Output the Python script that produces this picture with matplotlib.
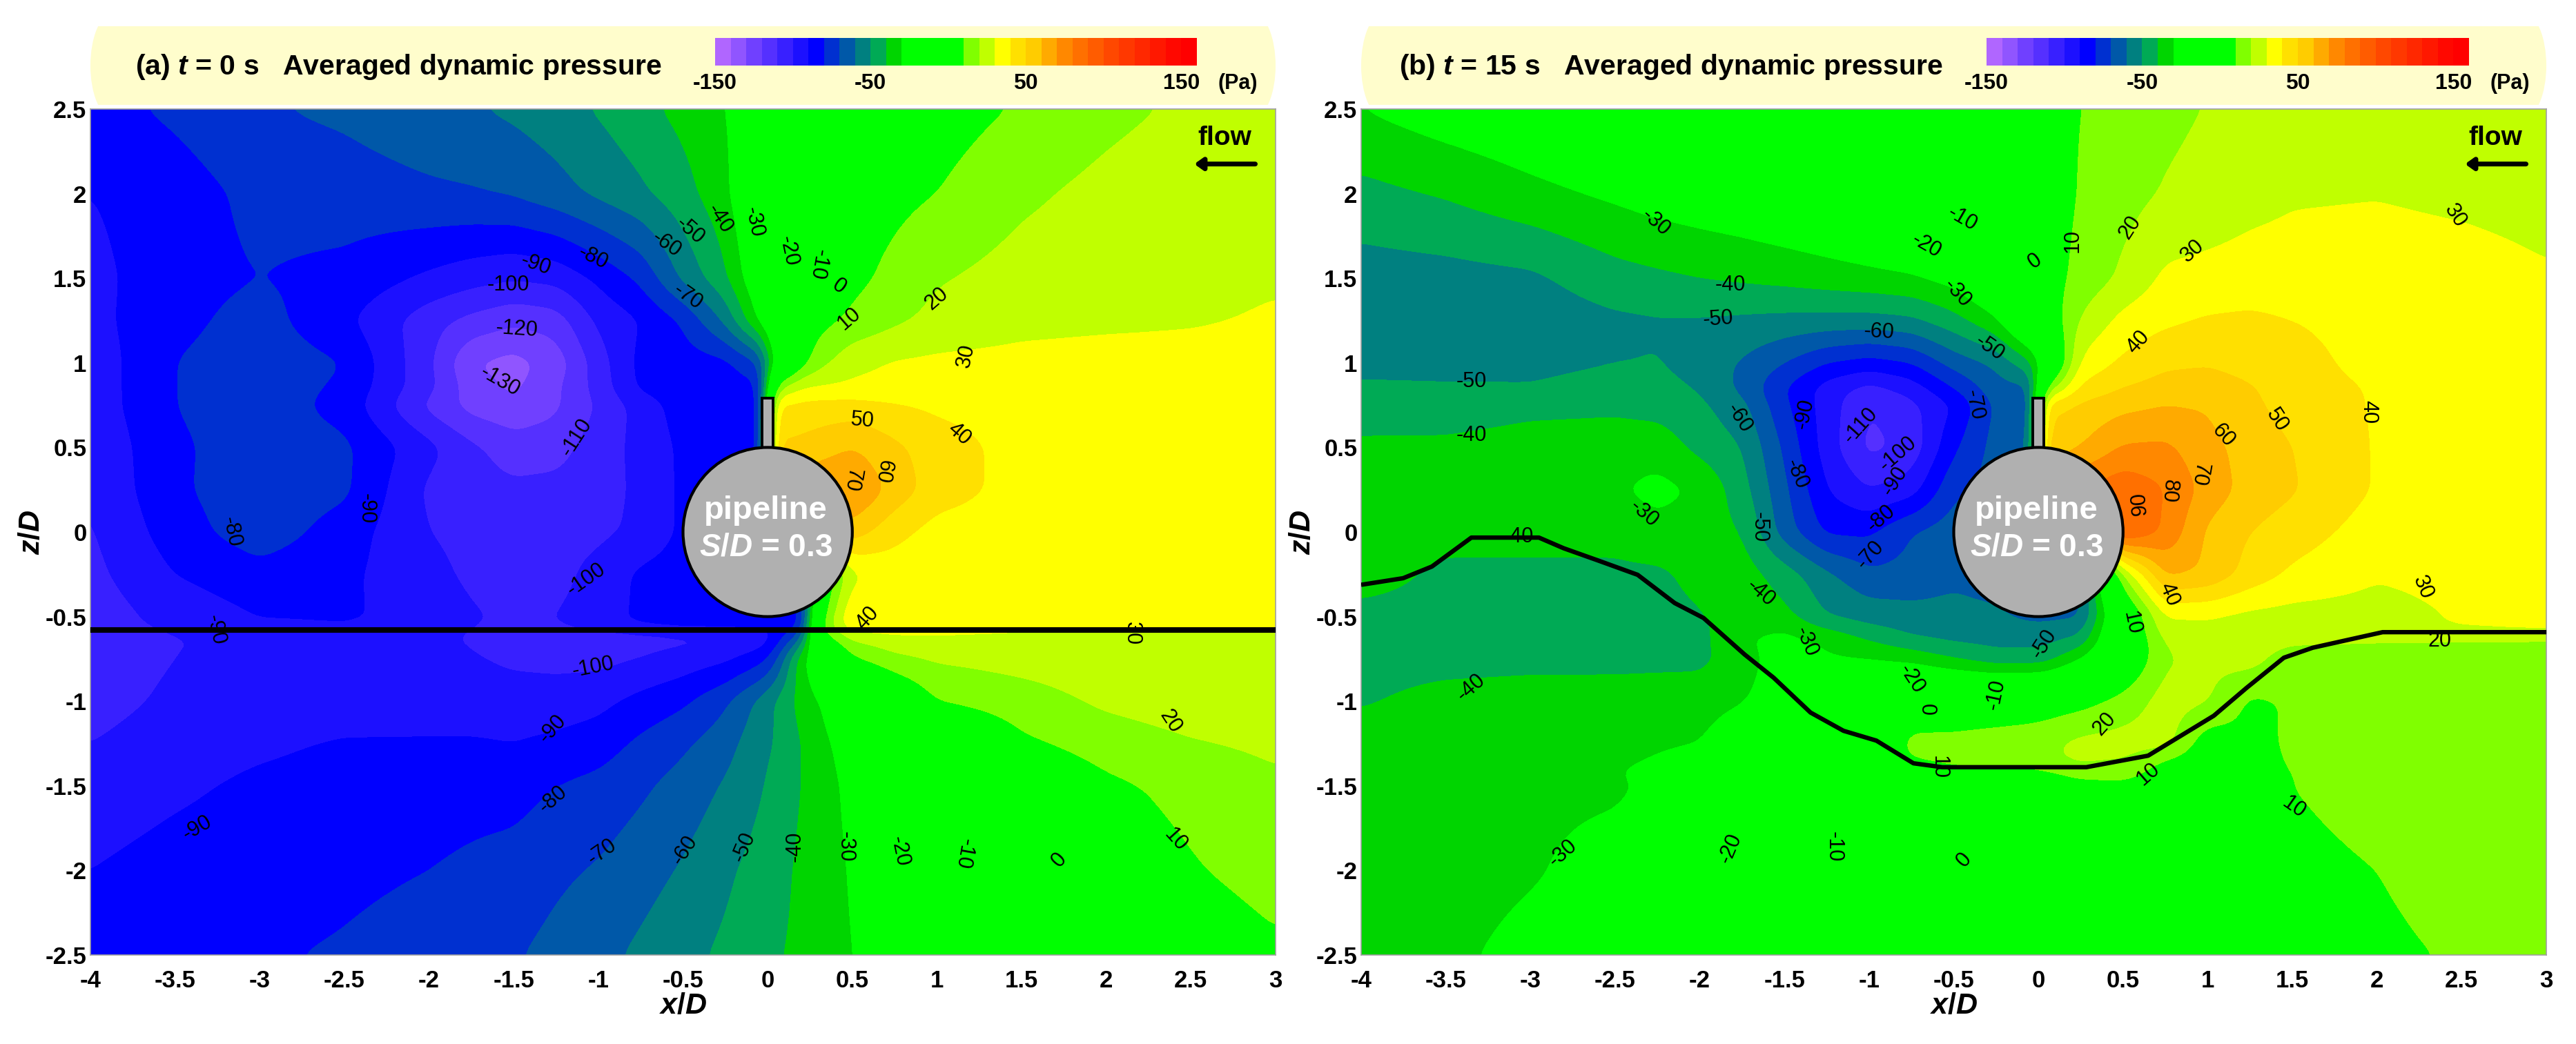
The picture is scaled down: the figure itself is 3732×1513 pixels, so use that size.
import numpy as np
import matplotlib
matplotlib.use("Agg")
import matplotlib.pyplot as plt
from matplotlib.colors import ListedColormap, BoundaryNorm
from matplotlib.patches import Circle, Rectangle, Ellipse

plt.rcParams["font.family"] = ["Liberation Sans", "DejaVu Sans"]
plt.rcParams["mathtext.fontset"] = "custom"
plt.rcParams["mathtext.rm"] = "Liberation Sans:bold"
plt.rcParams["mathtext.it"] = "Liberation Sans:italic:bold"
plt.rcParams["mathtext.bf"] = "Liberation Sans:bold"

# ---- colour scale ----
levels = list(range(-150, 170, 10))
band_colors = [
    "#B066FF", "#9055FF", "#7040FF", "#5530FF", "#3820FF", "#1C10FF", "#0000FF", "#0030D0",
    "#0058A8", "#008080", "#00AA55", "#00D500", "#00FF00", "#00FF00", "#00FF00", "#00FF00",
    "#80FF00", "#C0FF00", "#FFFF00", "#FFE000", "#FFCC00", "#FFAA00", "#FF8800", "#FF7000",
    "#FF5C00", "#FF4800", "#FF3800", "#FF2800", "#FF1800", "#FF0800", "#FF0000",
]
cbar_ticks = [-150, -50, 50, 150]
x_ticks = [-4, -3.5, -3, -2.5, -2, -1.5, -1, -0.5, 0, 0.5, 1, 1.5, 2, 2.5, 3]
z_ticks = [-2.5, -2, -1.5, -1, -0.5, 0, 0.5, 1, 1.5, 2, 2.5]

# ---- panel a, t = 0 s ----
x_a = [-4, -3.5, -3, -2.5, -2, -1.75, -1.5, -1.25, -1, -0.75, -0.5, -0.25, -0.04, 0.04, 0.2, 0.3, 0.5, 0.75, 1, 1.5, 2, 2.5, 3]
z_a = [2.5, 2, 1.5, 1.25, 1, 0.85, 0.75, 0.5, 0.25, 0, -0.25, -0.5, -0.565, -0.595, -0.75, -1, -1.25, -1.5, -2, -2.5]
p_a = [
    [-84, -78, -71, -68, -63, -61, -58, -54, -49, -43, -37, -30, -23, -21, -14, -10, -2, 2, 5, 11, 17, 22, 26],
    [-90, -85, -77, -75, -72, -71, -69, -64, -58, -52, -44, -33, -12, -6, -1, 1, 4, 7, 10, 18, 23, 27, 29],
    [-93, -84, -80, -83, -92, -96, -99, -97, -88, -78, -58, -42, -18, -8, 0, 2, 7, 13, 19, 24, 26, 28, 29],
    [-93, -83, -76, -88, -106, -113, -118, -115, -98, -90, -79, -58, -27, -15, 0, 6, 12, 18, 23, 27, 28, 29, 31],
    [-96, -80, -74, -80, -108, -130, -134, -126, -105, -87, -85, -83, -70, -25, 5, 16, 27, 31, 32, 33, 34, 34, 34],
    [-96, -80, -74, -82, -107, -125, -132, -122, -106, -88, -85, -85, -83, 15, 30, 31, 32, 33, 33, 34, 34, 34, 35],
    [-96, -80, -74, -84, -113, -124, -128, -122, -109, -96, -85, -85, -85, 41, 43, 44, 44, 41, 38, 35, 34, 34, 35],
    [-98, -82, -74, -78, -97, -108, -115, -114, -105, -97, -88, -85, -85, 51, 53, 55, 60, 52, 45, 36, 34, 34, 34],
    [-99, -82, -73, -78, -102, -106, -108, -107, -104, -98, -88, -85, -85, 60, 65, 70, 72, 56, 45, 36, 34, 34, 34],
    [-101, -85, -74, -85, -100, -103, -104, -103, -102, -98, -88, -85, -85, 50, 56, 57, 55, 43, 36, 34, 34, 34, 34],
    [-103, -90, -84, -88, -97, -102, -103, -103, -97, -88, -85, -85, -85, -85, -85, -10, 28, 34, 34, 34, 34, 34, 34],
    [-106, -96, -90, -89, -93, -99, -102, -100, -95, -88, -85, -85, -85, -85, -85, 2, 40, 36, 33, 32, 32, 32, 32],
    [-106, -97, -91, -90, -94, -99, -102, -100, -95, -88, -85, -85, -85, -85, -85, 10, 41, 38, 34, 33, 33, 33, 33],
    [-106, -101, -96, -95, -98, -102, -105, -105, -105, -105, -104, -103, -100, -92, -70, 5, 25, 30, 31, 29, 28, 28, 28],
    [-106, -100, -96, -95, -95, -99, -102, -103, -103, -100, -96, -92, -84, -75, -32, -19, 8, 17, 21, 24, 26, 26, 27],
    [-104, -98, -96, -96, -95, -95, -95, -95, -93, -87, -82, -72, -57, -50, -36, -30, -20, -5, 10, 15, 22, 26, 28],
    [-100, -95, -92, -89, -89, -89, -90, -88, -85, -78, -72, -64, -53, -50, -40, -33, -25, -15, -8, 8, 14, 19, 22],
    [-96, -92, -88, -86, -85, -84, -84, -80, -77, -72, -66, -59, -51, -47, -40, -35, -27, -20, -13, -1, 8, 13, 18],
    [-90, -86, -84, -82, -80, -78, -76, -72, -69, -64, -59, -52, -46, -44, -38, -35, -29, -22, -16, -6, 3, 9, 14],
    [-86, -84, -81, -79, -76, -74, -71, -67, -63, -58, -53, -48, -43, -41, -38, -35, -30, -25, -20, -10, -2, 3, 8],
]

# ---- panel b, t = 15 s ----
x_b = [-4, -3.5, -3, -2.5, -2.25, -2, -1.75, -1.5, -1.25, -1, -0.75, -0.5, -0.25, -0.04, 0.04, 0.25, 0.5, 0.75, 1, 1.25, 1.5, 2, 2.5, 3]
z_b = [2.5, 2, 1.5, 1.25, 1, 0.85, 0.75, 0.5, 0.25, 0, -0.25, -0.5, -0.58, -0.62, -0.75, -1, -1.25, -1.37, -1.42, -1.5, -2, -2.5]
p_b = [
    [-30, -24, -20, -16, -14, -12, -10.5, -9, -7, -5, -3, -1, 2, 5, 6, 10, 13, 17, 20.5, 22, 24, 26, 27, 28],
    [-43, -39, -33, -28, -25, -23, -21, -18, -15, -12, -9, -5, -2, 1, 3, 11, 16, 21, 24, 27, 29, 29.5, 28, 26.5],
    [-55, -54, -52, -44, -42, -40, -38.5, -37, -35, -33, -31, -26, -12, 2, 5, 13, 22, 32, 33, 34, 34, 35, 34, 31],
    [-56, -56, -56, -52, -51, -51, -52, -53, -53.6, -54, -52, -44, -32, -5, 0, 21, 33, 38, 41, 42, 40, 36, 35, 34],
    [-52, -52, -54, -50.5, -49.5, -55, -61, -70, -80, -84, -80, -66, -58, -42, -20, 32, 42, 48, 49, 46, 44, 36, 35, 35],
    [-49, -49.5, -49, -44, -46, -51, -63, -80, -95, -104, -96, -80, -64, -62, 10, 42, 50, 54, 55, 51, 45, 39, 36, 35],
    [-45.5, -45, -42.5, -42, -44, -48, -57, -78, -95, -110, -103, -90, -68, -65, 45, 52, 57, 60, 59, 52, 46, 39, 36, 34],
    [-38, -38, -36, -35, -34, -43, -50, -72, -95, -113, -107, -82, -66, -62, 55, 60, 71, 72, 63, 56, 50, 39, 36, 33],
    [-36, -35, -34, -31, -27, -31, -46, -68, -90, -100, -95, -72, -66, -65, 60, 80, 88, 80, 66, 56, 51, 39, 34, 33],
    [-37, -37, -37, -37, -33, -36, -40, -65, -82, -82, -70, -65, -63, -63, 50, 70, 93, 78, 58, 50, 45, 35, 34, 34],
    [-36, -42, -42, -42, -42, -37, -35, -45, -58, -68, -67, -62, -65, -70, -70, -65, 20, 62, 58, 46, 38, 31, 33, 34],
    [-43, -43, -43, -43, -43, -41, -33, -37, -50, -54, -56, -57, -58, -63, -63, -62, -10, 30, 30, 27, 26, 26, 31, 33],
    [-43, -43, -43, -43, -43, -43, -33, -30, -40, -47, -52, -55, -56, -56, -56, -52, -5, 26, 28, 25, 24, 24, 31, 33],
    [-43, -43, -43, -43, -43, -43, -30, -28, -32, -42, -50, -53, -54, -54, -54, -50, -8, 22, 24, 24, 24, 23, 21, 20],
    [-43, -43, -42.5, -43, -43, -43, -34, -25, -29, -30, -33, -40, -46, -46, -45, -30, -5, 19, 22, 24, 14, 13, 13, 13],
    [-41, -37, -36, -35, -34, -33, -30.5, -25, -18, -10, -2, -1, 0, 2, 3, 6, 14, 24, 21, 8, 11, 12, 14, 14],
    [-35, -34, -34, -33, -31, -30, -24, -18, -12, -6, 14, 14, 16, 17, 18, 23, 24, 24, 3, 8, 11, 13, 13, 13],
    [-33.5, -33, -32, -31, -29, -27, -22, -16, -8, -3, 8, 13, 14, 15, 17, 22, 19, 6, 2, 6, 11, 13, 13, 13],
    [-33, -33, -31.5, -30, -28, -26, -21, -15, -7, -2, 2, 4, 5, 6, 7, 12, 12, 6, 2, 6, 10, 13, 13, 13],
    [-33, -32.5, -32, -31.5, -28, -24, -19, -14, -9, -5, -2, 0, 2, 3, 4, 7, 8, 7, 5, 7, 10, 14, 15, 15],
    [-36, -34, -31, -26, -23, -20, -19, -15, -10, -7, -3, -1, 1, 2, 2, 3, 4, 5, 5, 6, 7, 10, 14, 16],
    [-36, -32, -27, -24, -22, -20, -18, -16, -13, -10, -7, -4, -2, 0, 0, 2, 3, 4, 5, 6, 7, 8, 11, 14],
]

# seabed profiles
bed_x_a = [-4, 3]
bed_z_a = [-0.58, -0.58]
bed_x_b = [-4, -3.752, -3.582, -3.349, -2.95, -2.804, -2.61, -2.367, -2.148, -1.978, -1.735, -1.564, -1.346,
           -1.151, -0.957, -0.738, -0.568, 0.283, 0.648, 1.036, 1.231, 1.45, 1.62, 2.033, 3]
bed_z_b = [-0.312, -0.273, -0.204, -0.033, -0.033, -0.096, -0.165, -0.253, -0.42, -0.508, -0.724, -0.861, -1.067,
           -1.175, -1.233, -1.367, -1.39, -1.39, -1.322, -1.086, -0.92, -0.743, -0.684, -0.592, -0.592]

# contour labels: x, z, text, angle
labels_a = [
    (-0.285, 1.85, "-40", -57), (-0.08, 1.83, "-30", -78), (-0.46, 1.78, "-50", -41), (-0.6, 1.70, "-60", -35),
    (0.12, 1.66, "-20", -78), (0.30, 1.58, "-10", -100), (0.42, 1.45, "0", -35), (0.48, 1.26, "10", 41),
    (1.0, 1.38, "20", 41), (1.17, 1.04, "30", 78), (-1.03, 1.62, "-80", -26), (-1.37, 1.58, "-90", -19),
    (-0.47, 1.39, "-70", -35), (-1.53, 1.46, "-100", 0), (-1.48, 1.2, "-120", -4), (-1.58, 0.89, "-130", -30),
    (-1.13, 0.56, "-110", 57), (0.56, 0.66, "50", -5), (1.13, 0.58, "40", -41), (0.68, 0.36, "60", -100),
    (0.5, 0.31, "70", -100), (-2.37, 0.14, "-90", -90), (-3.17, 0.0, "-80", -78), (-1.07, -0.28, "-100", 35),
    (-3.26, -0.58, "-90", -78), (0.59, -0.51, "40", 48), (2.15, -0.6, "30", -90), (-1.03, -0.80, "-100", 11),
    (2.38, -1.12, "20", -57), (-1.27, -1.165, "-90", 48), (-1.27, -1.58, "-80", 41), (-3.37, -1.75, "-90", 30),
    (-0.98, -1.89, "-70", 35), (-0.49, -1.88, "-60", 57), (-0.14, -1.86, "-50", 67), (0.16, -1.86, "-40", 90),
    (0.46, -1.86, "-30", -90), (0.78, -1.89, "-20", -78), (1.16, -1.9, "-10", -100), (1.72, -1.94, "0", 48),
    (2.41, -1.82, "10", -48),
]
labels_b = [
    (-2.26, 1.83, "-30", -41), (-0.45, 1.85, "-10", -30), (-0.66, 1.69, "-20", -30), (-0.02, 1.6, "0", 35),
    (0.2, 1.72, "10", 90), (0.54, 1.8, "20", 57), (0.91, 1.66, "30", 41), (2.46, 1.87, "30", -57),
    (-1.82, 1.46, "-40", 0), (-0.48, 1.41, "-30", -48), (-1.89, 1.26, "-50", 4), (-0.94, 1.18, "-60", -3),
    (-0.29, 1.09, "-50", -35), (0.59, 1.12, "40", 48), (-3.35, 0.89, "-50", 0), (-3.35, 0.57, "-40", 0),
    (-1.77, 0.67, "-60", -57), (-1.38, 0.70, "-90", 78), (-0.38, 0.75, "-70", -78), (-1.05, 0.63, "-110", 48),
    (1.95, 0.71, "40", -90), (1.41, 0.66, "50", -57), (1.09, 0.57, "60", -48), (0.95, 0.34, "70", -100),
    (0.77, 0.24, "80", -95), (0.6, 0.17, "90", 95), (-0.83, 0.46, "-100", 41), (-0.85, 0.3, "-90", 57),
    (-1.43, 0.34, "-80", -67), (-0.93, 0.08, "-80", 41), (-2.33, 0.11, "-30", -41), (-1.65, 0.03, "-50", -90),
    (-3.07, -0.03, "-40", 0), (-0.995, -0.135, "-70", 48), (-1.64, -0.36, "-40", -41), (2.27, -0.33, "30", -67),
    (0.77, -0.37, "40", -67), (0.55, -0.54, "10", -78), (-1.37, -0.65, "-30", -67), (2.37, -0.645, "20", 0),
    (0.03, -0.66, "-50", 57), (-0.75, -0.87, "-20", -57), (-0.25, -0.96, "-10", 78), (-0.63, -1.04, "0", 90),
    (-3.35, -0.92, "-40", 41), (0.39, -1.135, "20", 48), (-0.59, -1.39, "10", -90), (0.65, -1.43, "10", 41),
    (1.51, -1.63, "10", -35), (-2.81, -1.9, "-30", 41), (-1.82, -1.87, "-20", 67), (-1.21, -1.86, "-10", -90),
    (-0.44, -1.94, "0", 48),
]

W, H = 3732, 1513
cmap = ListedColormap(band_colors)
norm = BoundaryNorm(levels, cmap.N)


def add_axes_px(fig, left, top, right, bottom):
    return fig.add_axes([left / W, 1 - bottom / H, (right - left) / W, (bottom - top) / H])


def box_blur(field, n, axis):
    pad = [(0, 0), (0, 0)]
    pad[axis] = (n // 2, n // 2)
    padded = np.pad(field, pad, mode="edge")
    return np.apply_along_axis(lambda v: np.convolve(v, np.ones(n) / n, mode="valid"), axis, padded)


def fine_field(x, z, p):
    # the contour engine works on straight segments, so soften the read grid a little before contouring
    xf = np.arange(-4, 3.001, 0.02)
    zf = np.arange(-2.5, 2.501, 0.02)
    p = np.array(p, dtype=float)[::-1]
    by_row = np.array([np.interp(xf, x, row) for row in p])
    fine = np.array([np.interp(zf, z[::-1], col) for col in by_row.T]).T
    for _ in range(2):
        fine = box_blur(box_blur(fine, 5, 0), 5, 1)
    return xf, zf, fine


def draw_panel(fig, px, x, z, p, bed_x, bed_z, bed_lw, labels):
    ax = add_axes_px(fig, px, 158, px + 1717, 1384)
    xf, zf, fine = fine_field(x, z, p)
    ax.contourf(xf, zf, fine, levels=levels, cmap=cmap, norm=norm)
    ax.plot(bed_x, bed_z, color="black", lw=bed_lw, solid_capstyle="butt", zorder=3)
    for lx, lz, txt, ang in labels:
        ax.text(lx, lz, txt, fontsize=22, rotation=ang, ha="center", va="center", zorder=4,
                rotation_mode="anchor")
    # pipeline with the small plate on top
    ax.add_patch(Rectangle((-0.033, 0.4), 0.066, 0.39, fc="#B0B0B0", ec="black", lw=2.8, zorder=5))
    ax.add_patch(Circle((0, 0), 0.5, fc="#B0B0B0", ec="black", lw=3, zorder=6))
    ax.text(-0.01, 0.125, "pipeline", color="white", fontsize=34, fontweight="bold",
            ha="center", va="center", zorder=7)
    ax.text(-0.01, -0.09, r"$\mathit{S/D}$ = 0.3", color="white", fontsize=33, fontweight="bold",
            ha="center", va="center", zorder=7)
    ax.text(2.70, 2.33, "flow", fontsize=28, fontweight="bold", ha="center", va="center", zorder=7)
    ax.annotate("", xy=(2.52, 2.175), xytext=(2.88, 2.175), zorder=7,
                arrowprops=dict(arrowstyle="-|>,head_width=0.5,head_length=0.7", color="black", lw=5,
                                shrinkA=0, shrinkB=0))
    ax.set_xlim(-4, 3)
    ax.set_ylim(-2.5, 2.5)
    ax.set_xticks(x_ticks)
    ax.set_xticklabels([f"{t:g}" for t in x_ticks])
    ax.set_yticks(z_ticks)
    ax.set_yticklabels([f"{t:g}" for t in z_ticks])
    ax.tick_params(length=0, labelsize=25)
    ax.tick_params(axis="x", pad=15)
    ax.tick_params(axis="y", pad=4)
    for lab in ax.get_xticklabels() + ax.get_yticklabels():
        lab.set_fontweight("bold")
    ax.set_xlabel(r"$\mathit{x/D}$", fontsize=31, labelpad=0)
    ax.set_ylabel(r"$\mathit{z/D}$", fontsize=31, labelpad=0)
    for sp in ax.spines.values():
        sp.set_color("#A0A0A0")
        sp.set_linewidth(1.2)
    return ax


def draw_banner(bg, px, title, title_x, cbar_left, cbar_right):
    top, bot = 38, 152
    shape = Rectangle((px, top), 1717, bot - top, transform=bg.transData, fc="none", ec="none")
    bg.add_patch(shape)
    bg.add_patch(Rectangle((px + 30, top), 1717 - 60, bot - top, fc="#FFFDCC", ec="none"))
    for cx in (px + 32, px + 1717 - 32):
        e = Ellipse((cx, (top + bot) / 2), 64, 150, fc="#FFFDCC", ec="none")
        bg.add_patch(e)
        e.set_clip_path(shape)
    bg.text(title_x, 97, title, fontsize=29.5, fontweight="bold", ha="left", va="center")
    cax = add_axes_px(bg.figure, cbar_left, 55, cbar_right, 95)
    edges = np.array(levels)
    cax.pcolormesh(edges, [0, 1], np.array(levels[:-1], dtype=float)[None, :] + 5, cmap=cmap, norm=norm)
    cax.axis("off")
    step = (cbar_right - cbar_left) / 31
    for t in cbar_ticks:
        bg.text(cbar_left + (t + 150) / 10 * step, 121, str(t), fontsize=23, fontweight="bold",
                ha="center", va="center")
    bg.text(cbar_right + 59, 121, "(Pa)", fontsize=22, fontweight="bold", ha="center", va="center")


fig = plt.figure(figsize=(W / 100, H / 100), dpi=100)
bg = fig.add_axes([0, 0, 1, 1])
bg.set_xlim(0, W)
bg.set_ylim(H, 0)
bg.axis("off")

draw_panel(fig, 131, x_a, z_a, p_a, bed_x_a, bed_z_a, 5.8, labels_a)
draw_panel(fig, 1972, x_b, z_b, p_b, bed_x_b, bed_z_b, 4.6, labels_b)
draw_banner(bg, 131, r"(a) $\mathit{t}$ = 0 s   Averaged dynamic pressure", 196, 1036, 1734)
draw_banner(bg, 1972, r"(b) $\mathit{t}$ = 15 s   Averaged dynamic pressure", 2027, 2878, 3577)

fig.savefig("out.png", dpi=100)
